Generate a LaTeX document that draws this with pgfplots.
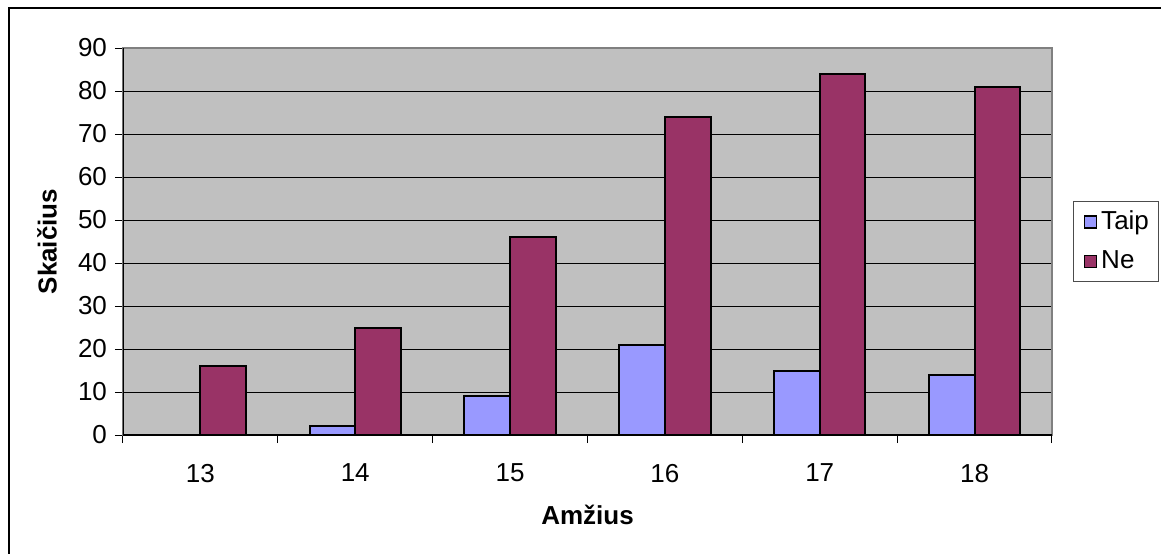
\documentclass[border=0pt]{standalone}
\usepackage{fontspec}
\setmainfont{Liberation Sans}
\usepackage{pgfplots}
\pgfplotsset{compat=1.18}

\definecolor{plotbg}{HTML}{C0C0C0}
\definecolor{taip}{HTML}{9999FF}
\definecolor{ne}{HTML}{993366}

\begin{document}
\begin{tikzpicture}
\useasboundingbox (-61.5pt,-59pt) rectangle (519pt,217.5pt);
% open frame: only left and top edges are inside the picture
\draw[line width=1pt] (-57pt,-70pt) -- (-57pt,213.5pt) -- (530pt,213.5pt);
\begin{axis}[
    scale only axis,
    width=464.5pt, height=193.5pt,
    ybar=0pt, bar width=0.295,
    xmin=-0.5, xmax=5.5,
    ymin=0, ymax=90,
    ytick={0,10,...,90},
    xtick={0,...,5},
    xticklabels={13,14,15,16,17,18},
    minor xtick={-0.5,0.5,...,5.5},
    tick align=outside,
    tick pos=left,
    major tick length=4pt,
    minor tick length=4pt,
    major x tick style={draw=none},
    minor x tick style={black, line width=0.5pt},
    y tick style={black, line width=0.5pt},
    ymajorgrids,
    major grid style={black, line width=0.5pt},
    axis background/.style={fill=plotbg},
    axis line style={draw=black!50, line width=0.75pt},
    tick label style={font=\fontsize{13}{15}\selectfont},
    /pgf/number format/assume math mode=true,
    yticklabel style={xshift=-0.5pt},
    xticklabel style={yshift=-7pt},
    xlabel={\textbf{Amžius}},
    ylabel={\textbf{Skaičius}},
    label style={font=\fontsize{13}{15}\selectfont},
    xlabel style={at={(axis description cs:0.5,-0.2067)}, anchor=center},
    ylabel style={at={(axis description cs:-0.0818,0.5)}, anchor=center},
    legend style={at={(axis description cs:1.0226,0.5)}, anchor=west,
        draw=black!70, line width=0.5pt,
        font=\fontsize{13}{15}\selectfont,
        inner xsep=3pt, inner ysep=3pt, row sep=5pt},
    legend cell align=left,
    legend image code/.code={\path (0pt,0pt);
        \draw[#1, line width=0.75pt] (2pt,-3pt) rectangle (8pt,3pt);},
]
\addplot[fill=taip, draw=black, line width=1pt] coordinates {(0,0) (1,2) (2,9) (3,21) (4,15) (5,14)};
\addlegendentry{Taip}
\addplot[fill=ne, draw=black, line width=1pt] coordinates {(0,16) (1,25) (2,46) (3,74) (4,84) (5,81)};
\addlegendentry{Ne}
\draw[black, line width=0.75pt] (rel axis cs:0,1) -- (rel axis cs:0,0) -- (rel axis cs:1,0);
\end{axis}
\end{tikzpicture}
\end{document}
